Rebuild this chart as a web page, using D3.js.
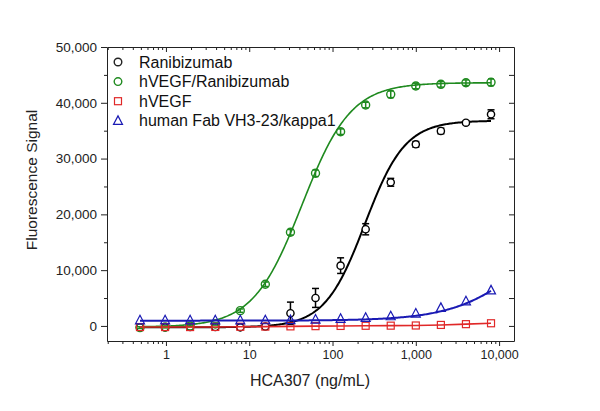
<!DOCTYPE html>
<html lang="en">
<head>
<meta charset="UTF-8">
<title>HCA307 binding</title>
<script src="https://d3js.org/d3.v7.min.js"></script>
<style>
body { margin: 0; background: #fff; }
svg { display: block; font-family: "Liberation Sans", Arial, sans-serif; }
.axis path, .axis line { stroke: #222; }
.axis text { fill: #222; }
</style>
</head>
<body>
<script>
// concentrations (ng/mL), 2-fold dilutions
const conc = [0.488, 0.977, 1.95, 3.91, 7.81, 15.6, 31.25, 62.5, 125, 250, 500, 1000, 2000, 4000, 8000];

const ranibizumab    = [-250, -250, -200, -200, -250, -100, 2270, 5020, 10810, 17330, 25750, 32560, 34950, 36430, 37940];
const ranibizumabErr = [200, 200, 200, 200, 200, 300, 2000, 1700, 1400, 1000, 700, 500, 500, 300, 800];
const complex        = [-300, -200, 0, 350, 2740, 7470, 16790, 27370, 34820, 39600, 41520, 43010, 43310, 43600, 43670];
const complexErr     = [150, 150, 150, 200, 300, 400, 500, 600, 500, 500, 600, 500, 500, 500, 600];
const hvegf          = [-200, -200, -200, -180, -150, -120, -80, -40, 0, 30, 50, 80, 180, 320, 480];
const fab            = [950, 950, 950, 950, 950, 960, 980, 1075, 1200, 1380, 1670, 2150, 3170, 4350, 6300];

// 4PL fit parameters [bottom, top, EC50, hill]
const fitRanibizumab = [-250, 36800, 245, 1.8];
const fitComplex     = [-200, 43600, 43, 1.48];
const fitFab         = [950, 21000, 22000, 1.0];

const yTicks = [0, 10000, 20000, 30000, 40000, 50000];
const yMinor = [5000, 15000, 25000, 35000, 45000];
const xTicks = [1, 10, 100, 1000, 10000];
const xMinor = [0.2, 0.3, 0.4, 0.5, 0.6, 0.7, 0.8, 0.9, 2, 3, 4, 5, 6, 7, 8, 9,
  20, 30, 40, 50, 60, 70, 80, 90, 200, 300, 400, 500, 600, 700, 800, 900,
  2000, 3000, 4000, 5000, 6000, 7000, 8000, 9000];

const legendNames = ['Ranibizumab', 'hVEGF/Ranibizumab', 'hVEGF', 'human Fab VH3-23/kappa1'];

const W = 600, H = 411;
const m = {left: 107, top: 47, right: 86, bottom: 70};
const green = '#1f8a1f', red = '#e02828', blue = '#1a1ab4', black = '#000';

const svg = d3.select('body').append('svg').attr('width', W).attr('height', H);

const x = d3.scaleLog().domain([0.196, 15100]).range([m.left, W - m.right]);
const y = d3.scaleLinear().domain([-2700, 50000]).range([H - m.bottom, m.top]);

// axes
svg.append('g').attr('class', 'axis').attr('transform', 'translate(' + m.left + ',0)')
  .call(d3.axisLeft(y).tickValues(yTicks).tickFormat(d3.format(',')).tickSize(6).tickSizeOuter(0))
  .call(g => g.selectAll('text').style('font-size', '13.5px').attr('x', -10));
svg.append('g').attr('class', 'axis').attr('transform', 'translate(' + m.left + ',0)')
  .call(d3.axisLeft(y).tickValues(yMinor).tickFormat('').tickSize(3).tickSizeOuter(0))
  .call(g => g.select('.domain').remove());
svg.append('g').attr('class', 'axis').attr('transform', 'translate(' + (W - m.right) + ',0)')
  .call(d3.axisLeft(y).tickValues(yTicks.concat(yMinor)).tickFormat('').tickSize(5).tickSizeOuter(0));

svg.append('g').attr('class', 'axis').attr('transform', 'translate(0,' + (H - m.bottom) + ')')
  .call(d3.axisBottom(x).tickValues(xTicks).tickFormat(d3.format(',')).tickSize(5).tickSizeOuter(0))
  .call(g => g.selectAll('text').style('font-size', '12.5px').attr('y', 9));
svg.append('g').attr('class', 'axis').attr('transform', 'translate(0,' + (H - m.bottom) + ')')
  .call(d3.axisBottom(x).tickValues(xMinor).tickFormat('').tickSize(3).tickSizeOuter(0))
  .call(g => g.select('.domain').remove());
svg.append('g').attr('class', 'axis').attr('transform', 'translate(0,' + m.top + ')')
  .call(d3.axisBottom(x).tickValues(xTicks).tickFormat('').tickSize(5).tickSizeOuter(0));
svg.append('g').attr('class', 'axis').attr('transform', 'translate(0,' + m.top + ')')
  .call(d3.axisBottom(x).tickValues(xMinor).tickFormat('').tickSize(3).tickSizeOuter(0))
  .call(g => g.select('.domain').remove());

// titles
svg.append('text').attr('x', 310).attr('y', 386).attr('text-anchor', 'middle')
  .style('font-size', '16px').attr('fill', '#222').text('HCA307 (ng/mL)');
svg.append('text').attr('transform', 'translate(37,180) rotate(-90)').attr('text-anchor', 'middle')
  .style('font-size', '15.5px').attr('fill', '#222').text('Fluorescence Signal');

// fitted curves
const fourPL = (p, c) => p[0] + (p[1] - p[0]) / (1 + Math.pow(p[2] / c, p[3]));
const grid = d3.range(0, 301).map(i => Math.pow(10, Math.log10(0.488) + i * (Math.log10(8000) - Math.log10(0.488)) / 300));
const fitLine = p => d3.line().x(c => x(c)).y(c => y(fourPL(p, c)))(grid);

const plot = svg.append('g');

function errorBars(vals, errs, color, cap) {
  const g = plot.append('g').attr('stroke', color).attr('stroke-width', 1.5);
  conc.forEach((c, i) => {
    const cx = x(c), y1 = y(vals[i] + errs[i]), y2 = y(vals[i] - errs[i]);
    g.append('line').attr('x1', cx).attr('x2', cx).attr('y1', y1).attr('y2', y2);
    g.append('line').attr('x1', cx - cap).attr('x2', cx + cap).attr('y1', y1).attr('y2', y1);
    g.append('line').attr('x1', cx - cap).attr('x2', cx + cap).attr('y1', y2).attr('y2', y2);
  });
}

const circle = (g, cx, cy, r, color) => g.append('circle').attr('cx', cx).attr('cy', cy).attr('r', r)
  .attr('fill', 'none').attr('stroke', color).attr('stroke-width', 1.4);
const square = (g, cx, cy, s, color) => g.append('rect').attr('x', cx - s / 2).attr('y', cy - s / 2)
  .attr('width', s).attr('height', s).attr('fill', 'none').attr('stroke', color).attr('stroke-width', 1.2);
const triangle = (g, cx, cy, s, color) => g.append('path')
  .attr('d', 'M' + cx + ',' + (cy - s * 0.6) + 'L' + (cx + s / 2) + ',' + (cy + s * 0.35) + 'L' + (cx - s / 2) + ',' + (cy + s * 0.35) + 'Z')
  .attr('fill', 'none').attr('stroke', color).attr('stroke-width', 1.2);

// Ranibizumab
plot.append('path').attr('d', fitLine(fitRanibizumab)).attr('fill', 'none').attr('stroke', black).attr('stroke-width', 2);
errorBars(ranibizumab, ranibizumabErr, black, 3.5);
const gR = plot.append('g');
conc.forEach((c, i) => circle(gR, x(c), y(ranibizumab[i]), 3.6, black).attr('fill', '#fff'));

// hVEGF/Ranibizumab
plot.append('path').attr('d', fitLine(fitComplex)).attr('fill', 'none').attr('stroke', green).attr('stroke-width', 1.6);
const gC = plot.append('g');
conc.forEach((c, i) => circle(gC, x(c), y(complex[i]), 4, green));
errorBars(complex, complexErr, green, 3);

// hVEGF
plot.append('path').attr('d', d3.line().x((c) => x(c)).y((c, i) => y(hvegf[i]))(conc))
  .attr('fill', 'none').attr('stroke', red).attr('stroke-width', 1.6);
const gV = plot.append('g');
conc.forEach((c, i) => square(gV, x(c), y(hvegf[i]), 7, red));

// human Fab
plot.append('path').attr('d', fitLine(fitFab)).attr('fill', 'none').attr('stroke', blue).attr('stroke-width', 2);
const gF = plot.append('g');
conc.forEach((c, i) => triangle(gF, x(c), y(fab[i]), 9, blue));

// legend
const leg = svg.append('g');
legendNames.forEach((name, i) => {
  const ly = 62 + i * 19.6;
  if (i === 0) circle(leg, 118, ly, 3.8, '#222');
  if (i === 1) circle(leg, 118, ly, 3.8, green);
  if (i === 2) square(leg, 118, ly, 7, red);
  if (i === 3) triangle(leg, 118, ly + 0.5, 9, blue);
  leg.append('text').attr('x', 139).attr('y', ly + 5.5).style('font-size', '16px').attr('fill', '#111').text(name);
});
</script>
</body>
</html>
